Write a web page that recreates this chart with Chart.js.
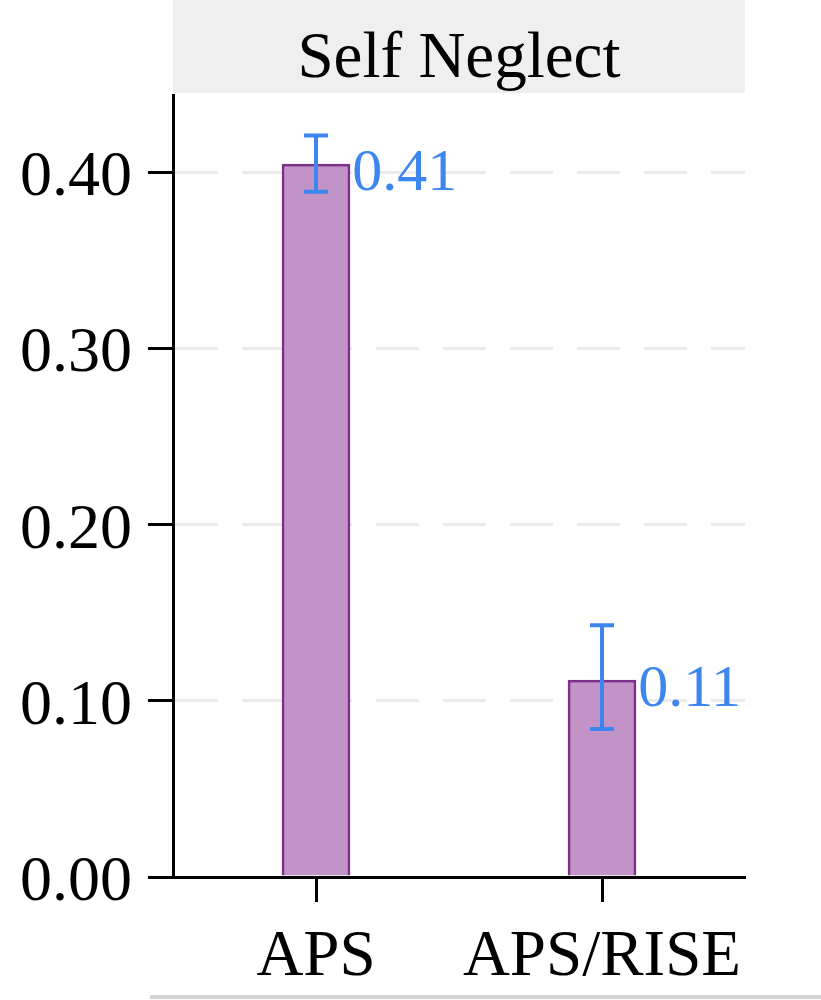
<!DOCTYPE html>
<html>
<head>
<meta charset="utf-8">
<script src="https://cdn.jsdelivr.net/npm/chart.js@4.4.1/dist/chart.umd.min.js"></script>
<style>
  html, body { margin: 0; padding: 0; background: #fff; }
  #wrap { width: 821px; height: 1000px; }
</style>
</head>
<body>
<div id="wrap"><canvas id="chart" width="821" height="1000"></canvas></div>
<script>
const panelTitle = 'Self Neglect';
const categories = ['APS', 'APS/RISE'];
const means = [0.405, 0.112];
const ciLow = [0.389, 0.084];
const ciHigh = [0.421, 0.143];
const valueLabels = ['0.41', '0.11'];
const yTickValues = [0, 0.1, 0.2, 0.3, 0.4];

const serif = '"Liberation Serif", "Times New Roman", serif';
const blue = '#3d86ef';

// facet strip + title, error bars and value labels
const panelPlugin = {
  id: 'panel',
  beforeDraw(chart) {
    const {ctx, chartArea} = chart;
    ctx.save();
    ctx.fillStyle = '#efefef';
    ctx.fillRect(chartArea.left, 0, chartArea.right - chartArea.left, chartArea.top - 2);
    ctx.fillStyle = '#000';
    ctx.font = '65px ' + serif;
    ctx.textAlign = 'center';
    ctx.textBaseline = 'alphabetic';
    ctx.fillText(panelTitle, (chartArea.left + chartArea.right) / 2, 77);
    // grey rule at the bottom of the screenshot
    ctx.fillStyle = '#d4d4d4';
    ctx.fillRect(150, 995, 671, 4);
    ctx.restore();
  },
  afterDatasetsDraw(chart) {
    const {ctx} = chart;
    const y = chart.scales.y;
    const meta = chart.getDatasetMeta(0);
    ctx.save();
    ctx.strokeStyle = blue;
    ctx.fillStyle = blue;
    ctx.lineWidth = 4;
    ctx.font = '60px ' + serif;
    ctx.textAlign = 'left';
    meta.data.forEach((bar, i) => {
      const yHi = y.getPixelForValue(ciHigh[i]);
      const yLo = y.getPixelForValue(ciLow[i]);
      ctx.beginPath();
      ctx.moveTo(bar.x, yHi); ctx.lineTo(bar.x, yLo);
      ctx.moveTo(bar.x - 12, yHi); ctx.lineTo(bar.x + 12, yHi);
      ctx.moveTo(bar.x - 12, yLo); ctx.lineTo(bar.x + 12, yLo);
      ctx.stroke();
      ctx.fillText(valueLabels[i], bar.x + bar.width / 2 + 2, bar.y + 26);
    });
    ctx.restore();
  }
};

new Chart(document.getElementById('chart'), {
  type: 'bar',
  data: {
    labels: categories,
    datasets: [{
      data: means,
      backgroundColor: '#c193c6',
      borderColor: '#7e2f8c',
      borderWidth: 3,
      barPercentage: 0.24,
      categoryPercentage: 1
    }]
  },
  options: {
    responsive: false,
    animation: false,
    layout: { padding: { top: 95, right: 76, bottom: 0, left: 0 } },
    plugins: { legend: { display: false }, tooltip: { enabled: false } },
    scales: {
      x: {
        grid: { offset: false, drawOnChartArea: false, tickLength: 25, tickColor: '#000', tickWidth: 3 },
        border: { color: '#000', width: 3 },
        ticks: { color: '#000', font: { family: serif, size: 65 }, padding: 17 },
        afterFit(s) { s.height = 123; }
      },
      y: {
        min: 0,
        max: 0.444,
        afterBuildTicks(s) { s.ticks = yTickValues.map(v => ({ value: v })); },
        grid: { color: '#ebebeb', lineWidth: 3, tickLength: 25, tickColor: '#000', tickWidth: 3, tickBorderDash: [] },
        border: { color: '#000', width: 3, dash: [43, 24] },
        ticks: { color: '#000', font: { family: serif, size: 64 }, padding: 16, labelOffset: 6,
                 callback: v => v.toFixed(2) },
        afterFit(s) { s.width = 173; }
      }
    }
  },
  plugins: [panelPlugin]
});
</script>
</body>
</html>
